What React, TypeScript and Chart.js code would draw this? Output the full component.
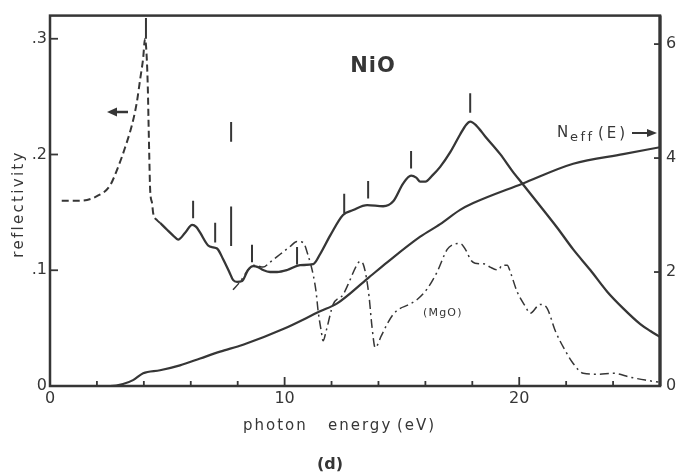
import React, { useEffect, useRef } from 'react';
import { Chart, registerables } from 'chart.js';

Chart.register(...registerables);

// ---- data (photon energy in eV, reflectivity, N_eff) ----
const niODashE = [0.5, 1.3, 2.0, 2.55, 2.9, 3.2, 3.5, 3.7, 3.85, 3.97, 4.05, 4.12, 4.17, 4.2, 4.23, 4.27, 4.35, 4.4, 4.55, 4.69];
const niODashR = [0.160, 0.160, 0.164, 0.173, 0.189, 0.206, 0.226, 0.245, 0.266, 0.283, 0.300, 0.285, 0.257, 0.228, 0.200, 0.169, 0.158, 0.149, 0.1435, 0.141];

const niOSolidE = [4.69, 4.99, 5.25, 5.46, 5.76, 6.06, 6.23, 6.40, 6.74, 6.95, 7.12, 7.38, 7.68, 7.80, 7.97, 8.19, 8.44, 8.66, 8.87, 9.08, 9.38, 9.68, 10.11, 10.66, 11.22, 11.51, 11.94, 12.49, 12.92, 13.52, 14.20, 14.63, 15.05, 15.39, 15.61, 15.78, 16.0, 16.29, 16.63, 17.06, 17.48, 17.74, 17.91, 18.17, 18.55, 19.19, 19.70, 20.13, 20.90, 21.62, 22.30, 23.03, 23.75, 24.43, 25.16, 25.59, 26.0];
const niOSolidR = [0.141, 0.135, 0.130, 0.1265, 0.1324, 0.1392, 0.1375, 0.1324, 0.1214, 0.1197, 0.1188, 0.1095, 0.0968, 0.0917, 0.0900, 0.0908, 0.1002, 0.1036, 0.1027, 0.1002, 0.0985, 0.0985, 0.1002, 0.1044, 0.1053, 0.1138, 0.1299, 0.1477, 0.1520, 0.1562, 0.1553, 0.1596, 0.1749, 0.1817, 0.1800, 0.1766, 0.1766, 0.1817, 0.1893, 0.2020, 0.2173, 0.2258, 0.2284, 0.2250, 0.2156, 0.2003, 0.1859, 0.1749, 0.1553, 0.1367, 0.1180, 0.1002, 0.0815, 0.0671, 0.0535, 0.0475, 0.0424];

const mgoE = [7.80, 8.10, 8.44, 8.66, 8.87, 9.08, 9.38, 9.81, 10.23, 10.53, 10.79, 11.0, 11.22, 11.34, 11.43, 11.56, 11.64, 11.77, 12.07, 12.49, 12.79, 13.01, 13.22, 13.35, 13.48, 13.60, 13.73, 13.86, 14.12, 14.37, 14.63, 14.93, 15.22, 15.65, 16.08, 16.50, 16.93, 17.19, 17.48, 17.78, 17.91, 18.12, 18.55, 18.76, 19.10, 19.28, 19.49, 19.62, 19.91, 20.26, 20.47, 20.77, 20.90, 21.19, 21.54, 21.96, 22.30, 22.73, 23.33, 24.01, 24.73, 25.37, 25.93];
const mgoR = [0.0832, 0.0900, 0.1002, 0.1044, 0.1036, 0.1027, 0.1070, 0.1138, 0.1205, 0.1248, 0.1239, 0.1129, 0.0959, 0.0815, 0.0645, 0.0475, 0.0390, 0.0475, 0.0705, 0.0789, 0.0917, 0.1019, 0.1078, 0.1053, 0.0942, 0.0772, 0.0501, 0.0331, 0.0433, 0.0535, 0.0620, 0.0671, 0.0696, 0.0747, 0.0840, 0.0985, 0.1180, 0.1222, 0.1231, 0.1154, 0.1095, 0.1061, 0.1053, 0.1027, 0.1002, 0.1044, 0.1044, 0.0985, 0.0815, 0.0688, 0.0628, 0.0688, 0.0705, 0.0671, 0.0475, 0.0306, 0.0195, 0.0110, 0.0102, 0.0110, 0.0076, 0.0051, 0.0034];

const neffE = [0, 2.56, 3.11, 3.54, 3.97, 4.69, 5.54, 6.40, 7.25, 8.23, 9.94, 11.51, 12.24, 13.52, 14.37, 15.78, 16.63, 17.48, 18.04, 20.13, 22.30, 24.43, 26.0];
const neffN = [0, 0, 0.034, 0.103, 0.224, 0.276, 0.362, 0.483, 0.603, 0.724, 1.0, 1.31, 1.45, 1.88, 2.17, 2.62, 2.84, 3.09, 3.21, 3.55, 3.90, 4.07, 4.19];

// structure markers (vertical bars above the NiO curve)
const markerE = [4.09, 6.10, 7.04, 7.72, 7.72, 8.61, 10.53, 12.54, 13.56, 15.39, 17.91];
const markerTop = [0.318, 0.160, 0.141, 0.228, 0.155, 0.122, 0.120, 0.166, 0.177, 0.203, 0.253];
const markerBottom = [0.300, 0.145, 0.124, 0.211, 0.121, 0.107, 0.105, 0.149, 0.162, 0.188, 0.236];

const xTickValues = [0, 10, 20];
const xTickLabels = ['0', '10', '20'];
const xMinorTicks = [2, 4, 6, 8, 12, 14, 16, 18, 22, 24];
const leftTickValues = [0, 0.1, 0.2, 0.3];
const leftTickLabels = ['0', '.1', '.2', '.3'];
const rightTickValues = [0, 2, 4, 6];
const rightTickLabels = ['0', '2', '4', '6'];

const xMax = 26;
const leftMax = 0.32;
const rightMax = 6.5;

const INK = '#363636';
const FONT = 'DejaVu Sans';

const zip = (xs: number[], ys: number[]) => xs.map((x, i) => ({ x, y: ys[i] }));

const decor = {
  id: 'decor',
  afterDraw(chart: any) {
    const { ctx, chartArea: a, scales } = chart;
    const sx = scales.x, sy = scales.y, sy2 = scales.y2;
    const c = ctx as any;
    ctx.save();
    ctx.strokeStyle = INK;
    ctx.fillStyle = INK;
    ctx.lineCap = 'butt';
    const line = (x1: number, y1: number, x2: number, y2: number) => {
      ctx.beginPath(); ctx.moveTo(x1, y1); ctx.lineTo(x2, y2); ctx.stroke();
    };
    // frame
    ctx.lineWidth = 2.5;
    ctx.strokeRect(a.left, a.top, a.right - a.left, a.bottom - a.top);
    ctx.lineWidth = 3.2;
    line(a.right, a.top, a.right, a.bottom);
    // ticks (inward)
    ctx.lineWidth = 1.8;
    for (const v of xTickValues) {
      if (v === 0) continue;
      const p = sx.getPixelForValue(v);
      line(p, a.bottom, p, a.bottom - 9);
    }
    for (const v of xMinorTicks) {
      const p = sx.getPixelForValue(v);
      line(p, a.bottom, p, a.bottom - 5);
    }
    for (const v of leftTickValues) {
      if (v === 0) continue;
      const p = sy.getPixelForValue(v);
      line(a.left, p, a.left + 8, p);
    }
    for (const v of rightTickValues) {
      if (v === 0) continue;
      const p = sy2.getPixelForValue(v);
      line(a.right, p, a.right - 6, p);
    }

    // texts
    ctx.textBaseline = 'alphabetic';
    // NiO
    c.letterSpacing = '1px';
    ctx.font = `bold 21px ${FONT}`;
    ctx.textAlign = 'center';
    ctx.fillText('NiO', 373, 72);

    // (MgO)
    ctx.font = `11px ${FONT}`;
    c.letterSpacing = '1.2px';
    ctx.textAlign = 'left';
    ctx.fillText('(MgO)', 423, 316);

    // N_eff(E) ->
    ctx.font = `15px ${FONT}`;
    c.letterSpacing = '1px';
    ctx.fillText('N', 557, 137);
    ctx.font = `13px ${FONT}`;
    c.letterSpacing = '2.5px';
    ctx.fillText('eff', 570, 141);
    ctx.font = `15px ${FONT}`;
    c.letterSpacing = '3px';
    ctx.fillText('(E)', 598, 138);
    ctx.lineWidth = 2;
    line(632, 133, 650, 133);
    ctx.beginPath(); ctx.moveTo(657, 133); ctx.lineTo(647, 129); ctx.lineTo(647, 137); ctx.closePath(); ctx.fill();

    // left arrow
    ctx.lineWidth = 2.5;
    line(128, 112, 114, 112);
    ctx.beginPath(); ctx.moveTo(107, 112); ctx.lineTo(117, 107.5); ctx.lineTo(117, 116.5); ctx.closePath(); ctx.fill();

    // x-axis title
    ctx.font = `15px ${FONT}`;
    c.letterSpacing = '2px';
    ctx.textAlign = 'left';
    ctx.fillText('photon', 243, 430);
    ctx.fillText('energy', 328, 430);
    ctx.fillText('(eV)', 397, 430);

    // y-axis title
    ctx.save();
    ctx.translate(23, 204);
    ctx.rotate(-Math.PI / 2);
    ctx.font = `15px ${FONT}`;
    c.letterSpacing = '2.3px';
    ctx.textAlign = 'center';
    ctx.fillText('reflectivity', 0, 0);
    ctx.restore();

    // caption
    ctx.font = `bold 16px ${FONT}`;
    c.letterSpacing = '0px';
    ctx.textAlign = 'center';
    ctx.fillText('(d)', 330, 469);

    ctx.restore();
  },
};

export default function App() {
  const ref = useRef<HTMLCanvasElement | null>(null);

  useEffect(() => {
    if (!ref.current) return;
    const tickFont = { family: FONT, size: 16 };
    const markerSets = markerE.map((e, i) => ({
      data: [{ x: e, y: markerTop[i] }, { x: e, y: markerBottom[i] }],
      borderColor: INK,
      borderWidth: 2,
      pointRadius: 0,
      tension: 0,
      yAxisID: 'y',
      fill: false,
    }));
    const chart = new Chart(ref.current, {
      type: 'line',
      data: {
        datasets: [
          {
            data: zip(niODashE, niODashR),
            borderColor: INK, borderWidth: 2, borderDash: [7, 4],
            pointRadius: 0, cubicInterpolationMode: 'monotone', yAxisID: 'y', fill: false,
          },
          {
            data: zip(niOSolidE, niOSolidR),
            borderColor: INK, borderWidth: 2.3,
            pointRadius: 0, cubicInterpolationMode: 'monotone', yAxisID: 'y', fill: false,
          },
          {
            data: zip(mgoE, mgoR),
            borderColor: INK, borderWidth: 1.5, borderDash: [9, 4, 2, 4],
            pointRadius: 0, cubicInterpolationMode: 'monotone', yAxisID: 'y', fill: false,
          },
          {
            data: zip(neffE, neffN),
            borderColor: INK, borderWidth: 2.2,
            pointRadius: 0, cubicInterpolationMode: 'monotone', yAxisID: 'y2', fill: false,
          },
          ...markerSets,
        ] as any,
      },
      options: {
        responsive: false,
        animation: false,
        layout: { padding: { top: 9, left: 0, right: 0, bottom: 0 } },
        plugins: {
          legend: { display: false },
          tooltip: { enabled: false },
          title: { display: false },
        },
        elements: { point: { radius: 0 } },
        scales: {
          x: {
            type: 'linear', min: 0, max: xMax,
            grid: { display: false, drawTicks: false },
            border: { display: false },
            ticks: {
              font: tickFont, color: INK, padding: 3, maxRotation: 0, autoSkip: false,
              callback: (v: any) => { const i = xTickValues.indexOf(Number(v)); return i >= 0 ? xTickLabels[i] : ''; },
            },
            afterBuildTicks: (s: any) => { s.ticks = xTickValues.map((v) => ({ value: v })); },
            afterFit: (s: any) => { s.height = 88; },
          },
          y: {
            type: 'linear', position: 'left', min: 0, max: leftMax,
            grid: { display: false, drawTicks: false },
            border: { display: false },
            ticks: {
              font: tickFont, color: INK, padding: 3, autoSkip: false,
              callback: (v: any) => { const i = leftTickValues.indexOf(Number(v)); return i >= 0 ? leftTickLabels[i] : ''; },
            },
            afterBuildTicks: (s: any) => { s.ticks = leftTickValues.map((v) => ({ value: v })); },
            afterFit: (s: any) => { s.width = 50; },
          },
          y2: {
            type: 'linear', position: 'right', min: 0, max: rightMax,
            grid: { display: false, drawTicks: false },
            border: { display: false },
            ticks: {
              font: tickFont, color: INK, padding: 6, autoSkip: false,
              callback: (v: any) => { const i = rightTickValues.indexOf(Number(v)); return i >= 0 ? rightTickLabels[i] : ''; },
            },
            afterBuildTicks: (s: any) => { s.ticks = rightTickValues.map((v) => ({ value: v })); },
            afterFit: (s: any) => { s.width = 17; },
          },
        },
      } as any,
      plugins: [decor],
    });
    return () => chart.destroy();
  }, []);

  return (
    <div style={{ position: 'fixed', left: 0, top: 0, width: 677, height: 474, background: '#fff' }}>
      <canvas ref={ref} width={677} height={474} style={{ display: 'block', width: 677, height: 474 }} />
    </div>
  );
}
